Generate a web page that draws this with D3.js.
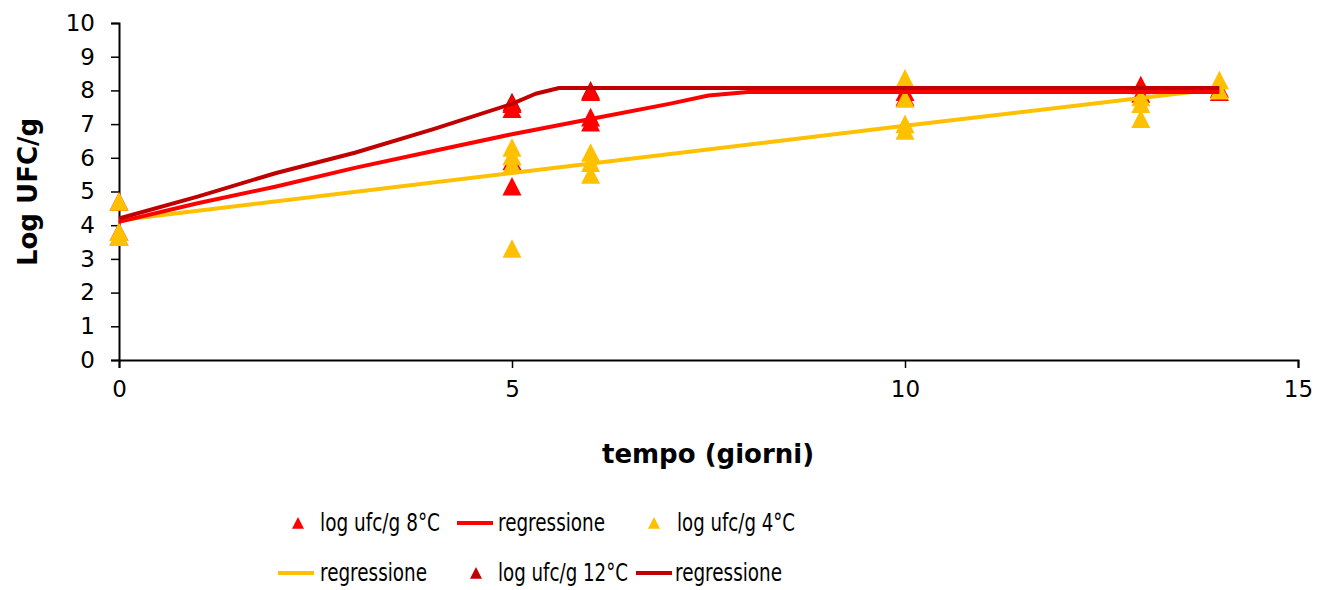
<html>
<script src='https://d3js.org/d3.v7.min.js'></script>
<style>
 body {margin:0; background:#fff;}
 text {font-family: "DejaVu Sans", Verdana, sans-serif;}
</style>
<body onload='init()'>
<svg width=1320 height=590>
</svg>
<script>
// data
var xTicks = [0, 5, 10, 15];
var yTicks = [0, 1, 2, 3, 4, 5, 6, 7, 8, 9, 10];

var obs12 = [[0,3.65],[5,7.65],[6,8.0]];
var obs8  = [[0,3.8],[0,4.7],[5,7.6],[5,7.45],[5,5.9],[5,5.15],[6,7.95],[6,7.2],[6,7.05],
             [10,7.95],[10,7.8],[13,8.15],[13,7.9],[14,8.05],[14,7.95]];
var obs4  = [[0,4.7],[0,3.8],[0,3.65],[5,6.3],[5,6.05],[5,5.8],[5,3.3],[6,6.15],[6,5.85],[6,5.5],
             [10,8.35],[10,7.75],[10,7.0],[10,6.8],[13,7.8],[13,7.6],[13,7.15],[14,8.3],[14,8.0]];

var reg4  = [[0,4.15],[5,5.55],[10,6.95],[14,8.05]];
var reg8  = [[0,4.1],[1,4.65],[2,5.15],[3,5.7],[4,6.2],[5,6.7],[6,7.15],[7,7.6],[7.5,7.85],[8,7.95],[14,7.95]];
var reg12 = [[0,4.2],[1,4.85],[2,5.55],[3,6.15],[4,6.85],[5,7.6],[5.3,7.9],[5.6,8.07],[14,8.07]];

var legendLabels = ["log ufc/g 8°C", "regressione", "log ufc/g 4°C",
                    "regressione", "log ufc/g 12°C", "regressione"];

function init() {
  var svg = d3.select("svg");
  var red = "#FF0000", orange = "#FFC000", dark = "#C00000";

  var x = d3.scaleLinear().domain([0, 15]).range([119, 1298]);
  var y = d3.scaleLinear().domain([0, 10]).range([360, 23]);

  // axes
  var gx = svg.append("g").attr("transform", "translate(0,360)")
    .call(d3.axisBottom(x).tickValues(xTicks).tickSize(8).tickPadding(22));
  var gy = svg.append("g").attr("transform", "translate(119,0)")
    .call(d3.axisLeft(y).tickValues(yTicks).tickSize(8).tickPadding(16));
  [gx, gy].forEach(function (g) {
    g.select(".domain").attr("stroke", "#000").attr("stroke-width", 2);
    g.selectAll(".tick line").attr("stroke", "#000").attr("stroke-width", 1.5);
    g.selectAll(".tick text").attr("fill", "#000")
      .style("font-family", '"DejaVu Sans", Verdana, sans-serif').style("font-size", "23px");
  });
  gx.selectAll(".tick text").attr("dy", "0.3em");

  // markers
  var tri = function (s) { return "M0," + (-s) + "L" + s + "," + (s * 0.95) + "L" + (-s) + "," + (s * 0.95) + "Z"; };
  [[obs12, dark], [obs8, red], [obs4, orange]].forEach(function (p) {
    svg.append("g").selectAll("path").data(p[0]).enter().append("path")
      .attr("d", tri(9.5))
      .attr("transform", function (d) { return "translate(" + x(d[0]) + "," + y(d[1]) + ")"; })
      .attr("fill", p[1]);
  });

  // regression lines
  var line = d3.line().x(function (d) { return x(d[0]); }).y(function (d) { return y(d[1]); });
  [[reg4, orange], [reg8, red], [reg12, dark]].forEach(function (p) {
    svg.append("path").datum(p[0]).attr("d", line)
      .attr("fill", "none").attr("stroke", p[1]).attr("stroke-width", 4)
      .attr("stroke-linejoin", "round");
  });

  // titles
  svg.append("text").attr("x", 708).attr("y", 463).attr("text-anchor", "middle")
    .style("font-weight", "bold").style("font-size", "26px").text("tempo (giorni)");
  svg.append("text").attr("transform", "translate(37,192) rotate(-90)").attr("text-anchor", "middle")
    .style("font-weight", "bold").style("font-size", "26px").text("Log UFC/g");

  // legend
  var items = [
    {type: "m", c: red,    sx: 298, tx: 320, y: 523, w: 120},
    {type: "l", c: red,    sx: 457, tx: 498, y: 523, w: 107},
    {type: "m", c: orange, sx: 654, tx: 677, y: 523, w: 118},
    {type: "l", c: orange, sx: 278, tx: 320, y: 573, w: 107},
    {type: "m", c: dark,   sx: 476, tx: 498, y: 573, w: 130},
    {type: "l", c: dark,   sx: 636, tx: 675, y: 573, w: 107}
  ];
  var lg = svg.append("g");
  items.forEach(function (it, i) {
    if (it.type === "m") {
      lg.append("path").attr("d", tri(6))
        .attr("transform", "translate(" + it.sx + "," + it.y + ")").attr("fill", it.c);
    } else {
      lg.append("line").attr("x1", it.sx).attr("x2", it.sx + 36)
        .attr("y1", it.y).attr("y2", it.y).attr("stroke", it.c).attr("stroke-width", 4);
    }
    lg.append("text").attr("x", it.tx).attr("y", it.y + 8)
      .style("font-size", "24px")
      .attr("textLength", it.w).attr("lengthAdjust", "spacingAndGlyphs")
      .text(legendLabels[i]);
  });
}
</script>
</body>
</html>
